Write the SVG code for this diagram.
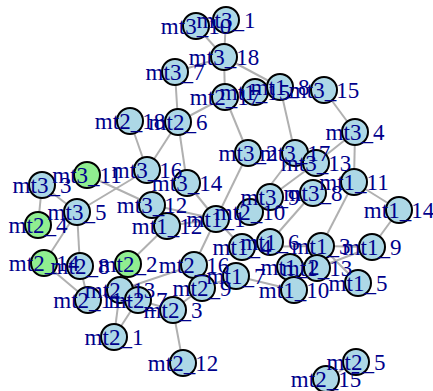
<svg xmlns="http://www.w3.org/2000/svg" width="433" height="391" viewBox="0 0 433 391">
<style>
.e{stroke:#B0B0B0;stroke-width:2;fill:none}
.n circle{stroke:#000;stroke-width:2;fill:#ADD8E6}
.n.g circle{fill:#90EE90}
text{font-family:"Liberation Serif","Times New Roman",serif;font-size:23px;fill:#00008B;text-anchor:middle}
</style>
<rect width="433" height="391" fill="#fff"/>
<g id="edges">
<line class="e" x1="196" y1="26" x2="224" y2="57"/>
<line class="e" x1="226" y1="20" x2="224" y2="57"/>
<line class="e" x1="224" y1="57" x2="175" y2="72"/>
<line class="e" x1="224" y1="57" x2="225" y2="97"/>
<line class="e" x1="224" y1="57" x2="280" y2="87"/>
<line class="e" x1="175" y1="72" x2="178" y2="122"/>
<line class="e" x1="225" y1="97" x2="178" y2="122"/>
<line class="e" x1="225" y1="97" x2="248" y2="153"/>
<line class="e" x1="280" y1="87" x2="295" y2="153"/>
<line class="e" x1="324" y1="90" x2="355" y2="132"/>
<line class="e" x1="355" y1="132" x2="354" y2="182"/>
<line class="e" x1="355" y1="132" x2="316" y2="163"/>
<line class="e" x1="130" y1="121" x2="147" y2="170"/>
<line class="e" x1="178" y1="122" x2="147" y2="170"/>
<line class="e" x1="178" y1="122" x2="187" y2="183"/>
<line class="e" x1="147" y1="170" x2="77" y2="212"/>
<line class="e" x1="87" y1="175" x2="152" y2="205"/>
<line class="e" x1="42" y1="185" x2="77" y2="212"/>
<line class="e" x1="42" y1="185" x2="38" y2="225"/>
<line class="e" x1="77" y1="212" x2="44" y2="263"/>
<line class="e" x1="77" y1="212" x2="80" y2="266"/>
<line class="e" x1="128" y1="264" x2="167" y2="226"/>
<line class="e" x1="44" y1="263" x2="88" y2="300"/>
<line class="e" x1="80" y1="266" x2="88" y2="300"/>
<line class="e" x1="120" y1="290" x2="114" y2="337"/>
<line class="e" x1="138" y1="300" x2="114" y2="337"/>
<line class="e" x1="138" y1="300" x2="173" y2="310"/>
<line class="e" x1="173" y1="310" x2="183" y2="363"/>
<line class="e" x1="120" y1="290" x2="194" y2="265"/>
<line class="e" x1="248" y1="153" x2="216" y2="219"/>
<line class="e" x1="295" y1="153" x2="250" y2="212"/>
<line class="e" x1="316" y1="163" x2="270" y2="197"/>
<line class="e" x1="187" y1="183" x2="216" y2="219"/>
<line class="e" x1="372" y1="247" x2="399" y2="210"/>
<line class="e" x1="354" y1="182" x2="321" y2="246"/>
<line class="e" x1="354" y1="182" x2="399" y2="210"/>
<line class="e" x1="321" y1="246" x2="358" y2="283"/>
<line class="e" x1="152" y1="205" x2="216" y2="219"/>
<line class="e" x1="216" y1="219" x2="242" y2="247"/>
<line class="e" x1="242" y1="247" x2="321" y2="246"/>
<line class="e" x1="321" y1="246" x2="372" y2="247"/>
<line class="e" x1="290" y1="267" x2="317" y2="268"/>
<line class="e" x1="356" y1="362" x2="326" y2="379"/>
<line class="e" x1="167" y1="226" x2="216" y2="219"/>
<line class="e" x1="194" y1="265" x2="216" y2="219"/>
<line class="e" x1="236" y1="276" x2="294" y2="290"/>
<line class="e" x1="313" y1="193" x2="270" y2="242"/>
<line class="e" x1="372" y1="247" x2="317" y2="268"/>
<line class="e" x1="202" y1="288" x2="173" y2="310"/>
<line class="e" x1="202" y1="288" x2="236" y2="276"/>
</g>
<g id="nodes">
<g id="mt3_10" class="n"><circle cx="196" cy="26" r="13"/></g>
<g id="mt3_1" class="n"><circle cx="226" cy="20" r="13"/></g>
<g id="mt3_18" class="n"><circle cx="224" cy="57" r="13"/></g>
<g id="mt3_7" class="n"><circle cx="175" cy="72" r="13"/></g>
<g id="mt2_17" class="n"><circle cx="225" cy="97" r="13"/></g>
<g id="mt1_15" class="n"><circle cx="255" cy="92" r="13"/></g>
<g id="mt1_8" class="n"><circle cx="280" cy="87" r="13"/></g>
<g id="mt3_15" class="n"><circle cx="324" cy="90" r="13"/></g>
<g id="mt2_18" class="n"><circle cx="130" cy="121" r="13"/></g>
<g id="mt2_6" class="n"><circle cx="178" cy="122" r="13"/></g>
<g id="mt3_4" class="n"><circle cx="355" cy="132" r="13"/></g>
<g id="mt3_2" class="n"><circle cx="248" cy="153" r="13"/></g>
<g id="mt3_17" class="n"><circle cx="295" cy="153" r="13"/></g>
<g id="mt3_13" class="n"><circle cx="316" cy="163" r="13"/></g>
<g id="mt1_11" class="n"><circle cx="354" cy="182" r="13"/></g>
<g id="mt1_14" class="n"><circle cx="399" cy="210" r="13"/></g>
<g id="mt3_11" class="n g"><circle cx="87" cy="175" r="13"/></g>
<g id="mt3_3" class="n"><circle cx="42" cy="185" r="13"/></g>
<g id="mt3_16" class="n"><circle cx="147" cy="170" r="13"/></g>
<g id="mt3_14" class="n"><circle cx="187" cy="183" r="13"/></g>
<g id="mt3_5" class="n"><circle cx="77" cy="212" r="13"/></g>
<g id="mt2_4" class="n g"><circle cx="38" cy="225" r="13"/></g>
<g id="mt3_12" class="n"><circle cx="152" cy="205" r="13"/></g>
<g id="mt1_12" class="n"><circle cx="167" cy="226" r="13"/></g>
<g id="mt1_1" class="n"><circle cx="216" cy="219" r="13"/></g>
<g id="mt2_10" class="n"><circle cx="250" cy="212" r="13"/></g>
<g id="mt3_9" class="n"><circle cx="270" cy="197" r="13"/></g>
<g id="mt3_8" class="n"><circle cx="313" cy="193" r="13"/></g>
<g id="mt1_4" class="n"><circle cx="242" cy="247" r="13"/></g>
<g id="mt1_6" class="n"><circle cx="270" cy="242" r="13"/></g>
<g id="mt1_3" class="n"><circle cx="321" cy="246" r="13"/></g>
<g id="mt1_9" class="n"><circle cx="372" cy="247" r="13"/></g>
<g id="mt1_2" class="n"><circle cx="290" cy="267" r="13"/></g>
<g id="mt1_13" class="n"><circle cx="317" cy="268" r="13"/></g>
<g id="mt1_10" class="n"><circle cx="294" cy="290" r="13"/></g>
<g id="mt1_5" class="n"><circle cx="358" cy="283" r="13"/></g>
<g id="mt1_7" class="n"><circle cx="236" cy="276" r="13"/></g>
<g id="mt2_16" class="n"><circle cx="194" cy="265" r="13"/></g>
<g id="mt2_9" class="n"><circle cx="202" cy="288" r="13"/></g>
<g id="mt2_3" class="n"><circle cx="173" cy="310" r="13"/></g>
<g id="mt2_12" class="n"><circle cx="183" cy="363" r="13"/></g>
<g id="mt2_14" class="n g"><circle cx="44" cy="263" r="13"/></g>
<g id="mt2_8" class="n"><circle cx="80" cy="266" r="13"/></g>
<g id="mt2_2" class="n g"><circle cx="128" cy="264" r="13"/></g>
<g id="mt2_11" class="n"><circle cx="88" cy="300" r="13"/></g>
<g id="mt2_13" class="n"><circle cx="120" cy="290" r="13"/></g>
<g id="mt2_7" class="n"><circle cx="138" cy="300" r="13"/></g>
<g id="mt2_1" class="n"><circle cx="114" cy="337" r="13"/></g>
<g id="mt2_5" class="n"><circle cx="356" cy="362" r="13"/></g>
<g id="mt2_15" class="n"><circle cx="326" cy="379" r="13"/></g>
</g>
<g id="labels">
<text x="196" y="33.5">mt3_10</text>
<text x="226" y="27.5">mt3_1</text>
<text x="224" y="64.5">mt3_18</text>
<text x="175" y="79.5">mt3_7</text>
<text x="225" y="104.5">mt2_17</text>
<text x="255" y="99.5">mt1_15</text>
<text x="280" y="94.5">mt1_8</text>
<text x="324" y="97.5">mt3_15</text>
<text x="130" y="128.5">mt2_18</text>
<text x="178" y="129.5">mt2_6</text>
<text x="355" y="139.5">mt3_4</text>
<text x="248" y="160.5">mt3_2</text>
<text x="295" y="160.5">mt3_17</text>
<text x="316" y="170.5">mt3_13</text>
<text x="354" y="189.5">mt1_11</text>
<text x="399" y="217.5">mt1_14</text>
<text x="87" y="182.5">mt3_11</text>
<text x="42" y="192.5">mt3_3</text>
<text x="147" y="177.5">mt3_16</text>
<text x="187" y="190.5">mt3_14</text>
<text x="77" y="219.5">mt3_5</text>
<text x="38" y="232.5">mt2_4</text>
<text x="152" y="212.5">mt3_12</text>
<text x="167" y="233.5">mt1_12</text>
<text x="216" y="226.5">mt1_1</text>
<text x="250" y="219.5">mt2_10</text>
<text x="270" y="204.5">mt3_9</text>
<text x="313" y="200.5">mt3_8</text>
<text x="242" y="254.5">mt1_4</text>
<text x="270" y="249.5">mt1_6</text>
<text x="321" y="253.5">mt1_3</text>
<text x="372" y="254.5">mt1_9</text>
<text x="290" y="274.5">mt1_2</text>
<text x="317" y="275.5">mt1_13</text>
<text x="294" y="297.5">mt1_10</text>
<text x="358" y="290.5">mt1_5</text>
<text x="236" y="283.5">mt1_7</text>
<text x="194" y="272.5">mt2_16</text>
<text x="202" y="295.5">mt2_9</text>
<text x="173" y="317.5">mt2_3</text>
<text x="183" y="370.5">mt2_12</text>
<text x="44" y="270.5">mt2_14</text>
<text x="80" y="273.5">mt2_8</text>
<text x="128" y="271.5">mt2_2</text>
<text x="88" y="307.5">mt2_11</text>
<text x="120" y="297.5">mt2_13</text>
<text x="138" y="307.5">mt2_7</text>
<text x="114" y="344.5">mt2_1</text>
<text x="356" y="369.5">mt2_5</text>
<text x="326" y="386.5">mt2_15</text>
</g>
</svg>
